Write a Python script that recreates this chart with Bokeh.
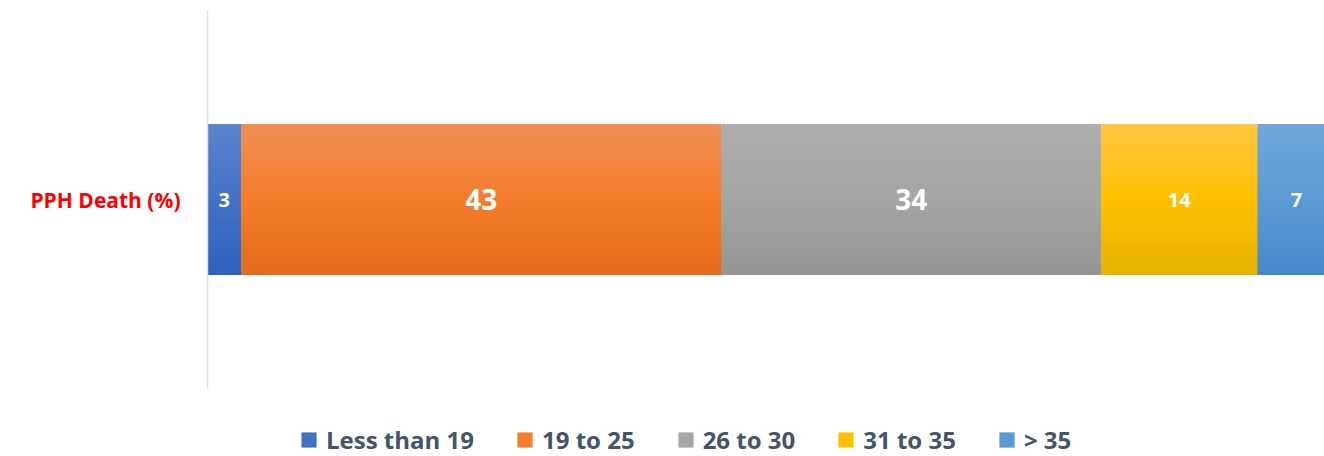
from bokeh.plotting import figure
from bokeh.models import ColumnDataSource, Range1d, Legend, LegendItem, FixedTicker, CDSView, IndexFilter
from bokeh.core.properties import value
from bokeh.embed import file_html
from bokeh.resources import INLINE
import numpy as np

# ---- data ----
rows = ["PPH Death (%)"]
categories = ["Less than 19", "19 to 25", "26 to 30", "31 to 35", "> 35"]
values = [3, 43, 34, 14, 7]

# ---- styling ----
top_cols = ["#5B84CF", "#F08E55", "#ADADAD", "#FFC640", "#6FA6DC"]
mid_cols = ["#4472C4", "#F47D2B", "#A5A5A5", "#FFC000", "#5B9BD5"]
bot_cols = ["#2F62BF", "#E46C1C", "#959595", "#E6B400", "#4688CA"]
FONT = "Open Sans"
BAR_H = 0.4
N = 40
FIG_W, FIG_H = 1324, 456
BORDER_L, BORDER_T = 207, 10
BAND_PX = 378          # pixel height of the category band
FRAME_PX = FIG_H - BORDER_T


def hex2rgb(h):
    h = h.lstrip("#")
    return np.array([int(h[i:i + 2], 16) for i in (0, 2, 4)], dtype=float)


def rgb2hex(c):
    return "#%02x%02x%02x" % tuple(int(round(v)) for v in c)


def mix(a, b, t):
    return rgb2hex(hex2rgb(a) * (1 - t) + hex2rgb(b) * t)


row_pos = 0 + 0.5  # centre of the single category band
vals = np.array(values, dtype=float)
right = np.cumsum(vals)
left = right - vals
data = dict(left=left.tolist(), right=right.tolist(),
            mid=((left + right) / 2).tolist(),
            ypos=[row_pos] * len(values), cat=categories,
            txt=[str(v) for v in values])
bar_top = row_pos + BAR_H / 2
bar_bot = row_pos - BAR_H / 2
for i in range(N):
    t = i / (N - 1)
    cols = []
    for k in range(len(values)):
        if t < 0.5:
            cols.append(mix(top_cols[k], mid_cols[k], t * 2))
        else:
            cols.append(mix(mid_cols[k], bot_cols[k], (t - 0.5) * 2))
    s_top = bar_top - i * BAR_H / N
    data["c%d" % i] = cols
    data["y%d" % i] = [(s_top + bar_bot) / 2] * len(values)
    data["h%d" % i] = [s_top - bar_bot] * len(values)
src = ColumnDataSource(data)

y_end = len(rows)
y_start = y_end - FRAME_PX / BAND_PX * len(rows)

p = figure(width=FIG_W, height=FIG_H, output_backend="svg", toolbar_location=None,
           y_range=Range1d(y_start, y_end), x_range=Range1d(0, 100),
           min_border_left=BORDER_L, min_border_right=0, min_border_top=BORDER_T,
           min_border_bottom=0)
p.outline_line_color = None
p.xgrid.visible = False
p.ygrid.visible = False
p.xaxis.visible = False

yax = p.yaxis[0]
yax.bounds = (0, len(rows))
yax.ticker = FixedTicker(ticks=[i + 0.5 for i in range(len(rows))])
yax.major_label_overrides = {i + 0.5: r for i, r in enumerate(rows)}
yax.axis_line_color = "#DCE1EA"
yax.axis_line_width = 1.5
yax.major_tick_line_color = None
yax.minor_tick_line_color = None
yax.major_tick_out = 0
yax.major_label_standoff = 27
yax.major_label_text_color = "#FF0000"
yax.major_label_text_font = FONT
yax.major_label_text_font_style = "bold"
yax.major_label_text_font_size = "21px"

renderers = []
for i in range(N):
    r = p.hbar(y="y%d" % i, left="left", right="right",
               height="h%d" % i, fill_color="c%d" % i, line_color=None,
               source=src)
    renderers.append(r)

big = [k for k, v in enumerate(values) if v >= 20]
small = [k for k, v in enumerate(values) if v < 20]
for idx, fs in ((big, "28px"), (small, "20px")):
    p.text(x="mid", y="ypos", text="txt", source=src,
           view=CDSView(filter=IndexFilter(idx)),
           text_align="center", text_baseline="middle", text_color="white",
           text_font=value(FONT), text_font_style="bold",
           text_font_size=fs)

legend_r = renderers[N // 2]
items = [LegendItem(label=c, renderers=[legend_r], index=k)
         for k, c in enumerate(categories)]
legend = Legend(items=items, orientation="horizontal", location=(92, 0),
                border_line_color=None, background_fill_alpha=0,
                label_text_font=FONT, label_text_font_style="bold",
                label_text_font_size="24px", label_text_color="#44546A",
                glyph_width=19, glyph_height=19, label_standoff=8,
                spacing=41, padding=0, margin=0)
p.add_layout(legend, "center")

open("out.html", "w").write(file_html(p, INLINE))
